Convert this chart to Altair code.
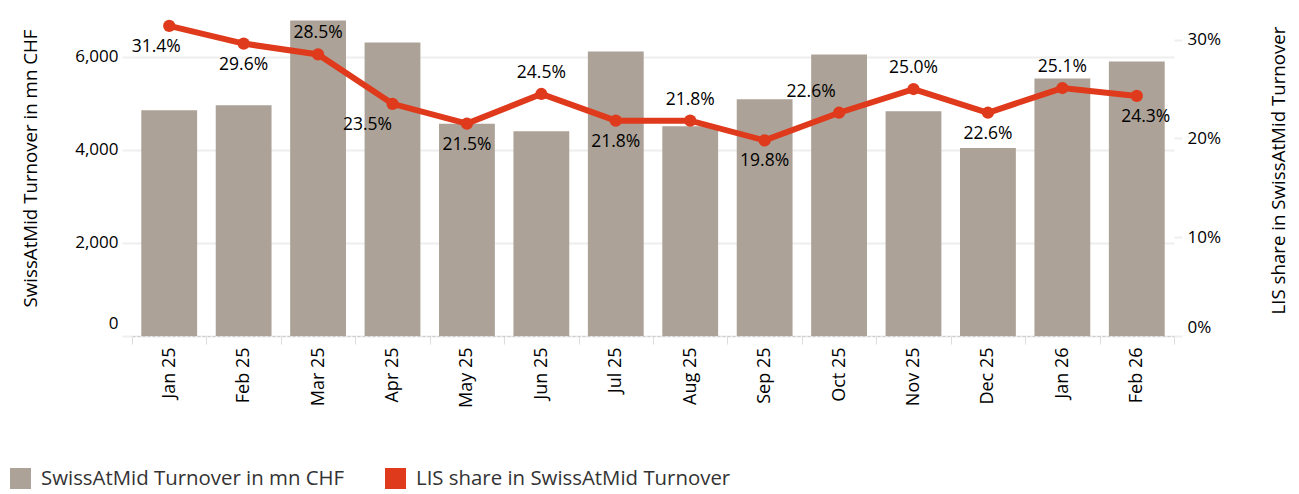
import altair as alt
import pandas as pd

months = ["Jan 25", "Feb 25", "Mar 25", "Apr 25", "May 25", "Jun 25", "Jul 25",
          "Aug 25", "Sep 25", "Oct 25", "Nov 25", "Dec 25", "Jan 26", "Feb 26"]
turnover = [4845, 4953, 6775, 6303, 4560, 4395, 6110, 4502, 5081, 6046, 4824, 4037, 5531, 5896]
lis_share_pct = [31.4, 29.6, 28.5, 23.5, 21.5, 24.5, 21.8, 21.8, 19.8, 22.6, 25.0, 22.6, 25.1, 24.3]

BAR_NAME = "SwissAtMid Turnover in mn CHF"
LINE_NAME = "LIS share in SwissAtMid Turnover"
BAR_COLOR = "#ACA297"
LINE_COLOR = "#E03A1C"
FONT = "Open Sans"

# label layout (which side of the point the value label sits, and small horizontal nudges)
labels_below = {"Jan 25", "Feb 25", "Apr 25", "May 25", "Jul 25", "Sep 25", "Dec 25", "Feb 26"}
label_nudge = {"Jan 25": -13, "Apr 25": -25, "Oct 25": -28, "Feb 26": 9}

df = pd.DataFrame({
    "month": months,
    "turnover": turnover,
    "lis": [v / 100 for v in lis_share_pct],
})
df["bar_series"] = BAR_NAME
df["line_series"] = LINE_NAME

W, H = 1042, 326

x_enc = alt.X(
    "month:N", sort=months, title=None,
    scale=alt.Scale(paddingInner=0, paddingOuter=0),
    axis=alt.Axis(
        labelAngle=270, labelFontSize=18, labelColor="#000000", labelFont=FONT,
        tickBand="extent", tickSize=8, tickColor="#dddddd", tickWidth=1,
        domainColor="#cccccc", domainDash=[3, 2], domainWidth=1,
        labelPadding=3, grid=False,
    ),
)

color_scale = alt.Scale(domain=[BAR_NAME, LINE_NAME], range=[BAR_COLOR, LINE_COLOR])
legend = alt.Legend(
    title=None, orient="none", legendX=-122, legendY=458, direction="horizontal",
    symbolType="square", symbolSize=441, symbolStrokeWidth=0, symbolOpacity=1,
    labelFontSize=20.4, labelFont=FONT, labelColor="#333333", labelOffset=10,
    columnPadding=40, labelLimit=0,
)

bars = alt.Chart(df).mark_bar(width=alt.RelativeBandSize(0.75)).encode(
    x=x_enc,
    y=alt.Y(
        "turnover:Q",
        scale=alt.Scale(domain=[0, 7000], nice=False, zero=True),
        axis=alt.Axis(
            orient="left", values=[0, 2000, 4000, 6000], format=",.0f",
            title=BAR_NAME, titleFontSize=18.7, titleFont=FONT, titleFontWeight="normal",
            titleColor="#000000", titleX=-102, titleY=158, titleAngle=270,
            titleAlign="center", titleBaseline="middle",
            labelFontSize=17, labelFont=FONT, labelColor="#000000", labelFlush=True,
            labelFlushOffset=-4,
            labelPadding=4, tickSize=10, tickColor="#eeeeee", tickWidth=2,
            grid=True, gridColor="#eeeeee", gridWidth=2, domain=False,
        ),
    ),
    color=alt.Color("bar_series:N", scale=color_scale, legend=legend),
)

base = alt.Chart(df).encode(
    x=x_enc,
    y=alt.Y(
        "lis:Q",
        scale=alt.Scale(domain=[0, 0.33], nice=False, zero=True),
        axis=alt.Axis(
            orient="right", values=[0, 0.1, 0.2, 0.3], format=".0%",
            title=LINE_NAME, titleFontSize=18.7, titleFont=FONT, titleFontWeight="normal",
            titleColor="#000000", titleX=104, titleY=160, titleAngle=270,
            titleAlign="center", titleBaseline="middle",
            labelFontSize=17, labelFont=FONT, labelColor="#000000", labelFlush=True,
            labelPadding=5, tickSize=8, tickColor="#eeeeee", tickWidth=2,
            grid=False, domain=False,
        ),
    ),
)

line = base.mark_line(color=LINE_COLOR, strokeWidth=6)
points = base.mark_circle(size=150, opacity=1).encode(
    color=alt.Color("line_series:N", scale=color_scale, legend=legend)
)

label_layers = []
groups = {}
for m in months:
    key = (label_nudge.get(m, 0), 21 if m in labels_below else -21)
    groups.setdefault(key, []).append(m)
for (dx, dy), ms in groups.items():
    label_layers.append(
        base.transform_filter(alt.FieldOneOfPredicate(field="month", oneOf=ms))
        .mark_text(fontSize=17.5, font=FONT, color="#000000", baseline="middle",
                   align="center", dx=dx, dy=dy)
        .encode(text=alt.Text("lis:Q", format=".1%"))
    )

right = alt.layer(line, points, *label_layers)

chart = alt.layer(bars, right).resolve_scale(y="independent").properties(
    width=W, height=H,
    autosize=alt.AutoSizeParams(type="none"),
    padding={"left": 132, "top": 10, "right": 125, "bottom": 158},
    background="white",
).configure_view(stroke=None)

chart.save("out.html", embed_options={"renderer": "svg", "actions": False})
